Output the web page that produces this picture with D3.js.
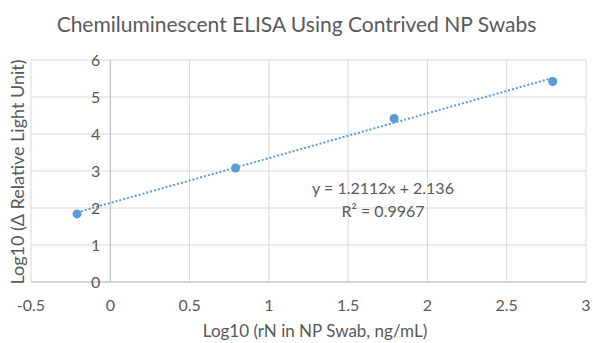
<!DOCTYPE html>
<html lang="en">
<head>
  <meta charset="UTF-8">
  <title>Chemiluminescent ELISA Using Contrived NP Swabs</title>
  <script src="https://d3js.org/d3.v7.min.js"></script>
  <style>
    body {
      margin: 0;
      background: #ffffff;
      font-family: "Lato", "Open Sans", sans-serif;
    }

    .grid line {
      stroke: #d9d9d9;
      stroke-width: 1;
    }

    .tick-label {
      fill: #595959;
      font-size: 16px;
    }
  </style>
</head>
<body>
  <div id="chart"></div>
  <script>
    // data
    const logConc = [-0.21, 0.79, 1.79, 2.79];
    const logRLU = [1.84, 3.08, 4.42, 5.42];
    const xTicks = [-0.5, 0, 0.5, 1, 1.5, 2, 2.5, 3];
    const yTicks = [0, 1, 2, 3, 4, 5, 6];
    const slope = 1.2112, intercept = 2.136;
    const eqLines = ["y = 1.2112x + 2.136", "R² = 0.9967"];

    const W = 593, H = 343;
    const points = logConc.map((x, i) => ({x: x, y: logRLU[i]}));

    const svg = d3.select("#chart")
      .append("svg")
      .attr("width", W)
      .attr("height", H);

    const x = d3.scaleLinear().domain([-0.5, 3]).range([31, 586]);
    const y = d3.scaleLinear().domain([0, 6]).range([282, 60]);

    // gridlines
    const grid = svg.append("g").attr("class", "grid");
    grid.selectAll(".h")
      .data(yTicks)
      .enter().append("line")
      .attr("x1", x(-0.5)).attr("x2", x(3))
      .attr("y1", d => y(d)).attr("y2", d => y(d));
    grid.selectAll(".v")
      .data(xTicks)
      .enter().append("line")
      .attr("x1", d => x(d)).attr("x2", d => x(d))
      .attr("y1", y(0)).attr("y2", y(6));

    // axis lines
    svg.append("line")
      .attr("x1", x(-0.5)).attr("x2", x(3))
      .attr("y1", y(0)).attr("y2", y(0))
      .attr("stroke", "#bfbfbf");
    svg.append("line")
      .attr("x1", x(0)).attr("x2", x(0))
      .attr("y1", y(0)).attr("y2", y(6))
      .attr("stroke", "#bfbfbf");

    // y tick labels sit next to the x=0 axis
    svg.selectAll(".ylab")
      .data(yTicks)
      .enter().append("text")
      .attr("class", "tick-label")
      .attr("x", x(0) - 10)
      .attr("y", d => y(d) + 6)
      .attr("text-anchor", "end")
      .text(d => d);

    svg.selectAll(".xlab")
      .data(xTicks)
      .enter().append("text")
      .attr("class", "tick-label")
      .attr("x", d => x(d))
      .attr("y", 311)
      .attr("text-anchor", "middle")
      .text(d => d);

    // trendline
    const ext = d3.extent(logConc);
    svg.append("line")
      .attr("x1", x(ext[0])).attr("y1", y(slope * ext[0] + intercept))
      .attr("x2", x(ext[1])).attr("y2", y(slope * ext[1] + intercept))
      .attr("stroke", "#5b9bd5")
      .attr("stroke-width", 2)
      .attr("stroke-dasharray", "2,2");

    svg.selectAll(".dot")
      .data(points)
      .enter().append("circle")
      .attr("cx", d => x(d.x))
      .attr("cy", d => y(d.y))
      .attr("r", 4.5)
      .attr("fill", "#5b9bd5");

    // equation
    svg.append("text")
      .attr("x", x(1.72))
      .attr("y", 194)
      .attr("text-anchor", "middle")
      .attr("fill", "#595959")
      .style("font-size", "16px")
      .selectAll("tspan")
      .data(eqLines)
      .enter().append("tspan")
      .attr("x", x(1.72))
      .attr("dy", (d, i) => i ? 23 : 0)
      .text(d => d);

    // title
    svg.append("text")
      .attr("x", W / 2)
      .attr("y", 32)
      .attr("text-anchor", "middle")
      .attr("fill", "#595959")
      .style("font-size", "21px")
      .text("Chemiluminescent ELISA Using Contrived NP Swabs");

    // axis titles
    svg.append("text")
      .attr("x", 315)
      .attr("y", 337)
      .attr("text-anchor", "middle")
      .attr("fill", "#595959")
      .style("font-size", "17px")
      .text("Log10 (rN in NP Swab, ng/mL)");

    svg.append("text")
      .attr("transform", "rotate(-90)")
      .attr("x", -172)
      .attr("y", 24)
      .attr("text-anchor", "middle")
      .attr("fill", "#595959")
      .style("font-size", "18px")
      .text("Log10 (\u0394 Relative Light Unit)");
  </script>
</body>
</html>
